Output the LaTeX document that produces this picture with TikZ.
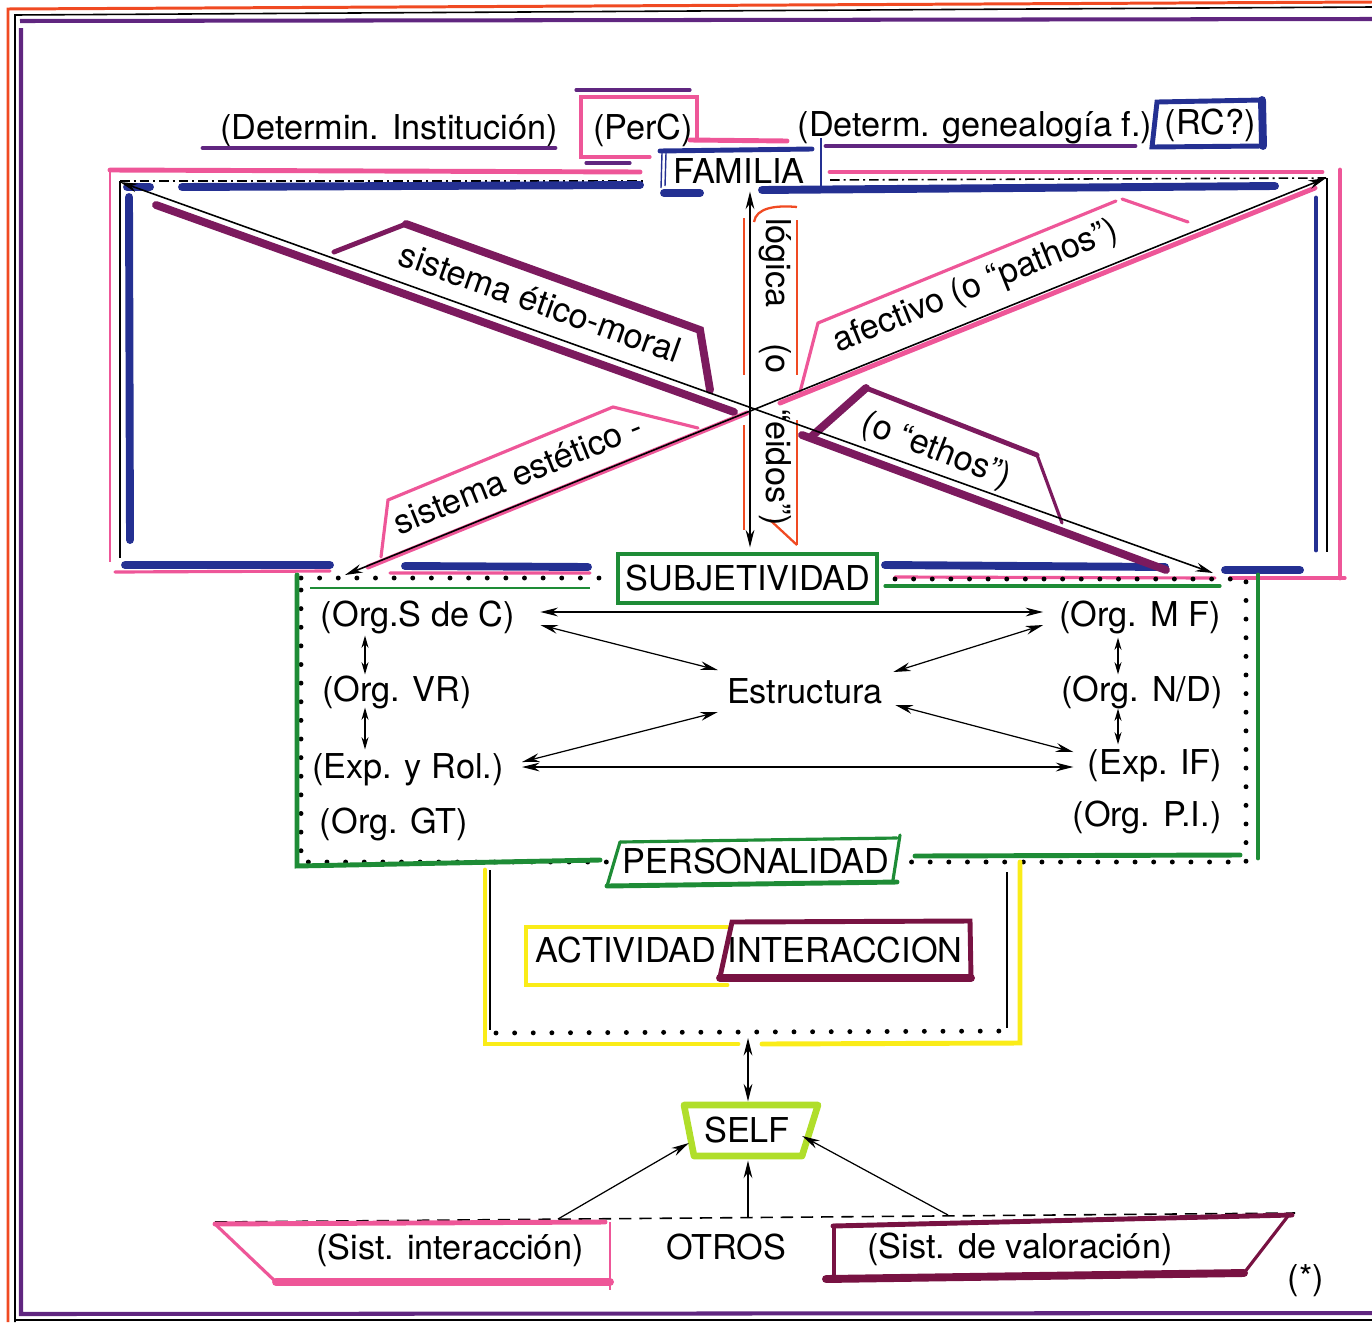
\documentclass[tikz,border=0pt]{standalone}
\usepackage{fontspec}
\setmainfont{TeX Gyre Heros}
\usetikzlibrary{arrows.meta}
\definecolor{cpink}{RGB}{238,86,152}
\definecolor{cblue}{RGB}{36,48,146}
\definecolor{cpurple}{RGB}{96,38,128}
\definecolor{cplum}{RGB}{124,26,94}
\definecolor{cmaroon}{RGB}{120,18,66}
\definecolor{cgreen}{RGB}{30,140,54}
\definecolor{cyellow}{RGB}{250,236,24}
\definecolor{clime}{RGB}{176,222,42}
\definecolor{corange}{RGB}{240,74,34}
\begin{document}
\begin{tikzpicture}[x=0.02cm,y=-0.02cm,
  txt/.style={font=\fontsize{19.5}{23}\selectfont, inner sep=0pt, text height=15.7pt, text depth=2.8pt},
  tipk/.tip={Stealth[length=10pt,width=5pt]},
  tips/.tip={Stealth[length=7pt,width=4pt]},
  biarr/.style={tipk-tipk, line width=0.7pt},
  sbiarr/.style={tips-tips, line width=0.7pt},
  onearr/.style={-tipk, line width=0.7pt},
  xline/.style={tipk-tipk, line width=0.9pt},
  dotline/.style={line width=2.8pt, line cap=round, dash pattern=on 0pt off 10.6pt},
  ddot/.style={black, line width=0.9pt, dash pattern=on 5.5pt off 2.2pt on 1.2pt off 2.2pt},
  mk/.style={line width=4.5pt, line cap=round},
  mkm/.style={line width=2.8pt, line cap=round},
  mks/.style={line width=1.8pt, line cap=round},
  thinblk/.style={black, line width=0.7pt}
]
\useasboundingbox (0,0) rectangle (1372,1322);
% outer frame
\draw[corange, line width=1.7pt] (8,1322) -- (8,9) -- (1372,2);
\draw[black, line width=0.9pt] (15,1322) -- (15,15) -- (1372,7);
\draw[cpurple, line width=2.3pt] (20,21) -- (1372,19);
\draw[cpurple, line width=2.3pt] (21,28) -- (21,1314) -- (1372,1313);
\draw[black, line width=0.9pt] (15,1320) -- (1372,1320);

% top labels
\node[txt] (detinst) at (389,128) {(Determin. Institución)};
\draw[cpurple, mkm] (203,148) -- (555,148);
\node[txt] (perc) at (643,128) {(PerC)};
\draw[cpurple, mks] (576,90) -- (690,90);
\draw[cpink, mks] (650,157) -- (581,157) -- (581,97) -- (697,97) -- (697,140);
\draw[cpink, mkm] (690,140) -- (787,141);
\draw[cpurple, mks] (586,163) -- (630,163);

\node[txt] (fam) at (739,172) {FAMILIA};
\draw[cblue, mkm] (660,151) -- (812,149);
\draw[cblue, line width=0.8pt] (662,153) -- (661,188) (666,153) -- (665,186);
\draw[cblue, mk] (664,193) -- (700,193);
\draw[cblue, line width=1pt] (821,138) -- (821,188);

\node[txt] (gen) at (975,125) {(Determ. genealogía f.)};
\draw[cpurple, mkm] (826,146) -- (1135,146);
\node[txt] (rc) at (1210,123) {(RC?)};
\draw[cblue, mkm] (1152,147) -- (1157,102) -- (1262,100) -- (1263,146) -- cycle;
\draw[cblue, mk] (1262,100) -- (1263,146);

% big frame
\draw[cpink, mkm] (110,170) -- (640,172);
\draw[cpink, mkm] (830,172) -- (1322,172);
\draw[ddot] (120,181) -- (645,181);
\draw[ddot] (830,180) -- (1326,178);
\draw[cblue, mk] (127,187) -- (150,187) (182,187) -- (640,185);
\draw[cblue, mk] (762,190) -- (1275,186);
\draw[cpink, line width=1.3pt] (110,172) -- (110,562);
\draw[thinblk] (120,181) -- (120,558);
\draw[cblue, mk] (129,197) -- (130,540);
\draw[cpink, mkm] (1340,170) -- (1340,578);
\draw[cpink, mks] (1345,578) -- (1230,578);
\draw[thinblk] (1327,178) -- (1327,552);
\draw[cblue, mkm] (1316,198) -- (1316,550);
\draw[cblue, mk] (125,565) -- (330,565) (405,566) -- (588,567) (885,565) -- (1165,567) (1225,570) -- (1300,570);
\draw[cpink, mks] (115,572) -- (330,571) (390,573) -- (590,573) (895,577) -- (1215,578);

% decorations of diagonal labels
\draw[cplum, mk] (156,205) -- (734,412);
\draw[cplum, mkm] (334,252) -- (406,224);
\draw[cplum, mk] (406,224) -- (700,330) -- (710,390);
\draw[cpink, mkm] (780,403) -- (1315,188);
\draw[cpink, mks] (800,392) -- (818,323) -- (1116,201);
\draw[cpink, mks] (1122,199) -- (1188,222);
\draw[cpink, mkm] (368,567) -- (747,413);
\draw[cpink, mks] (381,557) -- (388,500) -- (613,407) -- (698,428);
\draw[cplum, mk] (802,435) -- (1166,570);
\draw[cplum, mk] (812,436) -- (866,388);
\draw[cplum, mkm] (866,388) -- (1037,455);
\draw[cplum, mks] (1037,455) -- (1062,523);
\draw[corange, line width=1pt] (744,218) -- (744,375) (744,425) -- (744,530) (797,220) -- (797,375) (797,420) -- (797,545);
\draw[corange, line width=1.3pt] (754,222) .. controls (756,208) and (775,205) .. (797,207);
\draw[corange, line width=1.3pt] (770,520) -- (797,545);

% X of arrows
\coordinate (TL) at (120,182);
\coordinate (BR) at (1213,573);
\coordinate (TR) at (1326,178);
\coordinate (BL) at (345,575);
\draw[xline] (TL) -- (BR);
\draw[xline] (TR) -- (BL);

\node[txt, rotate=-19.6] (etico) at (540,303) {sistema ético-moral};
\node[txt, rotate=22] (afect) at (975,285) {afectivo (o “pathos”)};
\node[txt, rotate=22] (estet) at (518,475) {sistema estético -};
\node[txt, rotate=-21] (ethos) at (937,449) {(o “ethos”)};
\node[txt, rotate=-90] (eidos) at (778,372) {lógica\hspace{1.05em}(o\hspace{1.05em}“eidos”)};

% subjetividad block
\node[txt] (subj) at (748,579) {SUBJETIVIDAD};
\draw[cgreen, mks] (618,554) rectangle (877,603);
\draw[biarr] ([shift={(11,3)}]fam.south) -- ([shift={(2,-15)}]subj.north);
\draw[cgreen, line width=1.3pt] (310,588) -- (590,588);
\draw[cgreen, mks] (885,586) -- (1220,586);
\draw[dotline] (301,578) -- (612,578);
\draw[dotline] (895,579) -- (1246,579) -- (1246,862) -- (905,862);
\draw[dotline] (301,590) -- (301,862) -- (608,862);
\draw[cgreen, mkm] (297,575) -- (297,866) -- (600,860);
\draw[cgreen, mkm] (1258,575) -- (1258,858);
\draw[cgreen, mkm] (915,856) -- (1240,855);

\node[txt] (sdc) at (418,615) {(Org.S de C)};
\node[txt] (vr) at (397,690) {(Org. VR)};
\node[txt] (eyr) at (408,767) {(Exp. y Rol.)};
\node[txt] (gt) at (394,822) {(Org. GT)};
\node[txt] (est) at (805,692) {Estructura};
\node[txt] (mf) at (1140,615) {(Org. M F)};
\node[txt] (nd) at (1142,690) {(Org. N/D)};
\node[txt] (eif) at (1155,763) {(Exp. IF)};
\node[txt] (pi) at (1147,815) {(Org. P.I.)};

\draw[biarr] ([shift={(25,-3)}]sdc.east) -- ([shift={(-16,-3)}]mf.west);
\draw[biarr] ([shift={(25,10)}]sdc.east) -- ([shift={(-9,-22)}]est.west);
\draw[biarr] ([shift={(10,-20)}]est.east) -- ([shift={(-16,10)}]mf.west);
\draw[biarr] ([shift={(-9,20)}]est.west) -- ([shift={(18,-5)}]eyr.east);
\draw[biarr] ([shift={(12,13)}]est.east) -- ([shift={(-14,-11)}]eif.west);
\draw[biarr] ([shift={(18,0)}]eyr.east) -- ([shift={(-14,4)}]eif.west);
\draw[sbiarr] ([shift={(-53,4)}]sdc.south) -- ([shift={(-32,1)}]vr.north);
\draw[sbiarr] ([shift={(-32,1)}]vr.south) -- ([shift={(-43,-1)}]eyr.north);
\draw[sbiarr] ([shift={(-22,6)}]mf.south) -- ([shift={(-24,1)}]nd.north);
\draw[sbiarr] ([shift={(-24,2)}]nd.south) -- ([shift={(-37,-2)}]eif.north);

% personalidad
\node[txt] (pers) at (756,862) {PERSONALIDAD};
\draw[cgreen, mks] (620,842) -- (897,838);
\draw[cgreen, mkm] (607,886) -- (897,882);
\draw[cgreen, mks] (620,842) -- (607,886);
\draw[cgreen, mks] (900,835) -- (893,880);

% actividad / interaccion block
\draw[cyellow, mkm] (485,870) -- (485,1044) -- (738,1044);
\draw[cyellow, mkm] (762,1044) -- (1020,1043) -- (1020,862);
\draw[thinblk] (490,870) -- (490,1030);
\draw[thinblk] (1007,872) -- (1007,1028);
\draw[dotline] (496,1033) -- (1006,1031);
\coordinate (dotb) at (748,1038);
\node[txt] (act) at (626,951) {ACTIVIDAD};
\node[txt] (inter) at (845,951) {INTERACCION};
\draw[cyellow, mkm] (727,927) -- (526,927) -- (526,985) -- (727,985);
\draw[cmaroon, mkm] (720,977) -- (732,922) -- (970,921) -- (971,978);
\draw[cmaroon, mk] (720,978) -- (971,978);

% self
\node[txt] (self) at (747,1131) {SELF};
\draw[clime, line width=3.8pt, line join=round] (684,1105) -- (818,1105) -- (802,1156) -- (694,1156) -- cycle;
\draw[biarr] (dotb) -- ([shift={(1,-13)}]self.north);

\draw[black, line width=0.9pt, dash pattern=on 7pt off 4.5pt] (215,1222) -- (1295,1213);
\coordinate (dl) at (558,1219);
\coordinate (dm) at (748,1218);
\coordinate (dr) at (948,1215);
\draw[onearr] (dl) -- ([shift={(-15,12)}]self.west);
\draw[onearr] (dr) -- ([shift={(12,5)}]self.east);
\draw[onearr] (dm) -- ([shift={(1,13)}]self.south);

% bottom boxes
\draw[cpink, mkm] (215,1224) -- (605,1222);
\draw[cpink, mks] (215,1224) -- (276,1282);
\draw[cpink, mk] (276,1282) -- (610,1282);
\draw[cpink, line width=1.2pt] (610,1222) -- (610,1290);
\node[txt] (sint) at (450,1248) {(Sist. interacción)};
\node[txt] (otros) at (726,1248) {OTROS};
\node[txt] (sval) at (1020,1247) {(Sist. de valoración)};
\draw[cmaroon, mkm] (833,1226) -- (1292,1215);
\draw[cmaroon, mks] (1288,1216) -- (1244,1273);
\draw[cmaroon, mk] (826,1279) -- (1244,1273);
\draw[cmaroon, mkm] (834,1226) -- (834,1277);
\node[txt] (ast) at (1306,1278) {(*)};
\end{tikzpicture}
\end{document}
